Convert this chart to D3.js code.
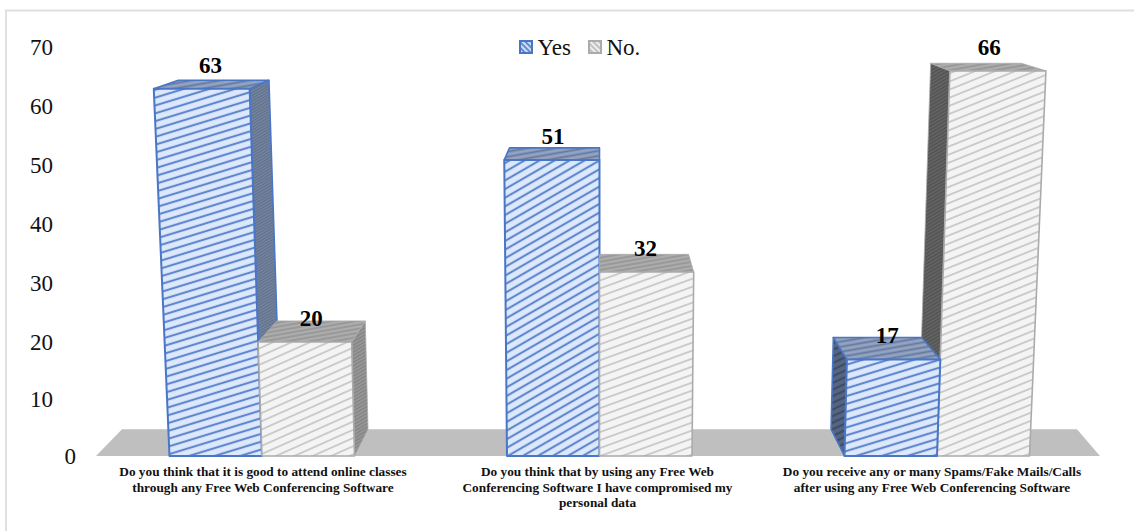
<!DOCTYPE html>
<html><head><meta charset="utf-8">
<script src="https://cdn.jsdelivr.net/npm/d3@7"></script>
<style>html,body{margin:0;padding:0;background:#fff}svg{display:block}text{font-family:"Liberation Serif",serif}</style>
</head><body><svg id="c" width="1134" height="531"></svg>
<script>
const categories=[
 ["Do you think that it is good to attend online classes","through any Free Web Conferencing Software"],
 ["Do you think that by using any Free Web","Conferencing Software I have compromised my","personal data"],
 ["Do you receive any or many Spams/Fake Mails/Calls","after using any Free Web Conferencing Software"]];
const seriesNames=["Yes","No."];
const yesValues=[63,51,17];
const noValues=[20,32,66];
const yTicks=[0,10,20,30,40,50,60,70];
// style only: stripe angle of each bar's hatch
const yesAngles=[-17,-30,-17];
const noAngles=[-24,-20,-22];

const svg=d3.select("#c");
const defs=svg.append("defs");
function pat(id,bg,fg,h,sw,ang){
  const p=defs.append("pattern").attr("id",id).attr("patternUnits","userSpaceOnUse")
    .attr("width",40).attr("height",h).attr("patternTransform",`rotate(${ang})`);
  p.append("rect").attr("width",40).attr("height",h).attr("fill",bg);
  p.append("rect").attr("y",h/2-sw/2).attr("width",40).attr("height",sw).attr("fill",fg);
}
yesAngles.forEach((a,i)=>pat("yf"+i,"#dce8fb","#5f86cf",7.5,2.1,a));
noAngles.forEach((a,i)=>pat("nf"+i,"#f4f4f4","#bcbcbc",7.5,1.4,a));
pat("yt","#93a4c2","#64789c",5,1.8,-10);
pat("nt","#adadad","#949494",4,1.6,-10);
pat("ys0","#76859f","#5f6e8a",2.5,1.1,-30);
pat("ys2","#556583","#3f4c66",6,2.2,-25);
pat("ns0","#9a9a9a","#808080",3,1.3,-30);
pat("ns2","#656565","#505050",3,1.3,-30);

// chart frame: only top and left edges are in the picture
svg.append("path").attr("d","M6,531V10.5H1134").attr("fill","none").attr("stroke","#e0e0e0").attr("stroke-width",2);

const y=d3.scalePow().exponent(1.02).domain([0,70]).range([456,47]);
const xc=d3.scalePoint().domain(d3.range(3)).range([262,937]);
const barW=92.5, cx=600;
const lean=v=>1+0.00058*v;
const P=(gx,v)=>[cx+(gx-cx)*lean(v),y(v)];
const back=([a,b])=>[a+(cx-a)*0.055, b-(0.05*b+4)];
const line=d3.line();
const poly=pts=>line(pts)+"Z";
const yesC="#4a76c6", noC="#ababab";

// floor
const floorBack=back([0,y(0)])[1];
svg.append("path").attr("fill","#bfbfbf")
  .attr("d",poly([[96,y(0)],[122,floorBack],[1077,floorBack],[1100,y(0)]]));

// y axis labels ("0" sits further right in the reference)
svg.append("g").selectAll("text").data(yTicks).join("text")
  .attr("x",d=>d===0?76:53).attr("y",d=>y(d)+7.5).attr("text-anchor","end")
  .attr("font-size",23).attr("fill","#111").text(d=>d);

const bars=[];
categories.forEach((c,i)=>{
  bars.push({gx0:xc(i)-barW,gx1:xc(i),v:yesValues[i],k:"y",c:yesC,i});
  bars.push({gx0:xc(i),gx1:xc(i)+barW,v:noValues[i],k:"n",c:noC,i});
});
bars.sort((a,b)=>Math.abs(b.gx0+b.gx1-2*cx)-Math.abs(a.gx0+a.gx1-2*cx));
const g=svg.append("g").attr("stroke-linejoin","round");
bars.forEach(b=>{
  const fl0=P(b.gx0,0),fr0=P(b.gx1,0),fl=P(b.gx0,b.v),fr=P(b.gx1,b.v);
  const add=(pts,fill,sw)=>g.append("path").attr("d",poly(pts)).attr("fill",`url(#${fill})`)
    .attr("stroke",b.c).attr("stroke-width",sw);
  const sw=b.k=="y"?2:1.6;
  if(b.gx1<cx-5) add([fr0,fr,back(fr),back(fr0)],b.k+"s"+b.i,b.k=="y"?1.6:0.8);
  if(b.gx0>cx+5) add([fl0,fl,back(fl),back(fl0)],b.k+"s"+b.i,b.k=="y"?1.6:0.8);
  add([fl,fr,back(fr),back(fl)],b.k+"t",b.k=="y"?1.6:0.8);
  add([fl0,fr0,fr,fl],b.k+"f"+b.i,sw);
});

// value labels
bars.forEach(b=>{
  const fl=P(b.gx0,b.v),fr=P(b.gx1,b.v);
  const mid=(fl[0]+fr[0])/2;
  svg.append("text").attr("x",mid+(cx-mid)*0.022).attr("y",fl[1]-16)
    .attr("text-anchor","middle").attr("font-size",23).attr("font-weight","bold").attr("fill","#000").text(b.v);
});

// categories
const labelX=d3.scalePoint().domain(d3.range(3)).range([263,932]);
const cat=svg.append("g");
categories.forEach((ls,i)=>{
  cat.append("text").attr("text-anchor","middle").attr("font-size",13.3).attr("font-weight","bold").attr("fill","#111")
    .selectAll("tspan").data(ls).join("tspan")
    .attr("x",labelX(i)).attr("y",(d,j)=>476+j*15.6).text(d=>d);
});

// legend
pat("ly","#cfe0fa","#4a76c6",4,1.6,45);
pat("ln","#eeeeee","#b5b5b5",4,1.6,45);
const lg=svg.append("g");
[[520,"ly",yesC],[589,"ln",noC]].forEach(([lx,f,c],i)=>{
  lg.append("rect").attr("x",lx).attr("y",41).attr("width",12).attr("height",12)
    .attr("fill",`url(#${f})`).attr("stroke",c).attr("stroke-width",2);
  lg.append("text").attr("x",lx+17.5).attr("y",55).attr("font-size",23).attr("fill","#111").text(seriesNames[i]);
});
</script></body></html>
